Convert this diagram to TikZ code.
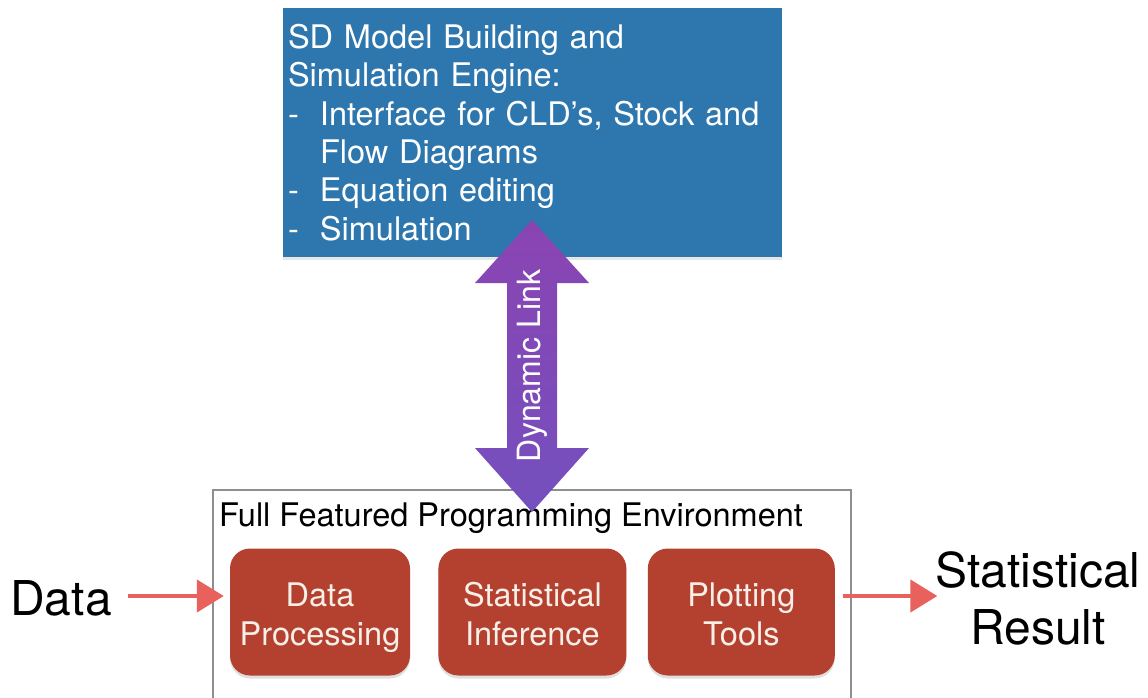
\documentclass[tikz,border=0pt]{standalone}
\usepackage{fontspec}
\setmainfont{TeX Gyre Heros}
\usepackage{tikz}
\usetikzlibrary{positioning,shadows,arrows.meta}

\definecolor{sdblue}{HTML}{2E77AE}
\definecolor{toolred}{HTML}{B4412F}
\definecolor{toolfont}{HTML}{F7EFE8}
\definecolor{envgray}{HTML}{8E8E8E}
\definecolor{linktop}{HTML}{8A44B2}
\definecolor{linkbot}{HTML}{7450BE}
\definecolor{sketchred}{HTML}{E8615C}

\newcommand{\tooltop}{\rule{0pt}{39pt}}

\begin{document}
\begin{tikzpicture}[x=1pt,y=-1pt]

    \tikzstyle{tool}=[fill=toolred,rounded corners=20pt,text=toolfont,align=center,minimum height=127pt,inner sep=0pt,font=\fontsize{32.5}{39}\selectfont,drop shadow={shadow xshift=0pt,shadow yshift=-3pt,opacity=0.25}]
    \tikzstyle{bigtext}=[inner sep=0pt,align=center,font=\fontsize{48}{57}\selectfont]
    \tikzstyle{sketch}=[line width=4.5pt,sketchred,-{Triangle[length=27pt,width=32pt]}]

    \useasboundingbox (0,0) rectangle (1148,698);

\node (env) [draw=envgray,line width=2pt,minimum width=638pt,minimum height=240pt,anchor=north] at (532,489) {};
\node (envlabel) [anchor=west,inner sep=0pt,font=\fontsize{32.5}{36}\selectfont] at (219,518) {Full Featured Programming Environment};

\node (dataproc) [tool,minimum width=180pt] at (320,612) {\tooltop Data\\Processing\strut};
\node (statinf) [tool,minimum width=188pt,right=28pt of dataproc] {\tooltop Statistical\\Inference\strut};
\node (plottools) [tool,minimum width=187pt,right=21pt of statinf] {\tooltop Plotting\\Tools\strut};

\node (sdmodel) [fill=sdblue,text=white,minimum width=499pt,minimum height=249pt,text width=489pt,inner sep=5pt,align=left,font=\fontsize{32.5}{38.4}\selectfont,drop shadow={shadow xshift=0pt,shadow yshift=-3pt,opacity=0.2}] at (532.5,132.5) {SD Model Building and\\
Simulation Engine:\\
\makebox[32pt][l]{-}Interface for CLD’s, Stock and\\
\hspace*{32pt}Flow Diagrams\\
\makebox[32pt][l]{-}Equation editing\\
\makebox[32pt][l]{-}Simulation};

\node (data) [bigtext] at (61,598) {Data};
\node (result) [bigtext] at (1038,598) {Statistical\\Result};

% dynamic link between the engine and the environment
\coordinate (linktip) at (532,220);
\coordinate (linkend) at (532,512);
\shade[top color=linktop,bottom color=linkbot] (linktip) --++(57,63) --++(-32,0) --++(0,165) --++(32,0) -- (linkend) --++(-57,-64) --++(32,0) --++(0,-165) --++(-32,0) -- cycle;
\node (linklabel) [rotate=90,text=white,font=\fontsize{32}{38}\selectfont] at (532,366) {Dynamic Link};

\draw[sketch,shorten <=16pt,shorten >=6pt] ([yshift=2pt]data.east) -- ([yshift=2pt]data.east -| dataproc.west);
\draw[sketch,shorten <=8pt,shorten >=-2pt] ([yshift=2pt]result.west -| plottools.east) -- ([yshift=2pt]result.west);

\end{tikzpicture}
\end{document}
